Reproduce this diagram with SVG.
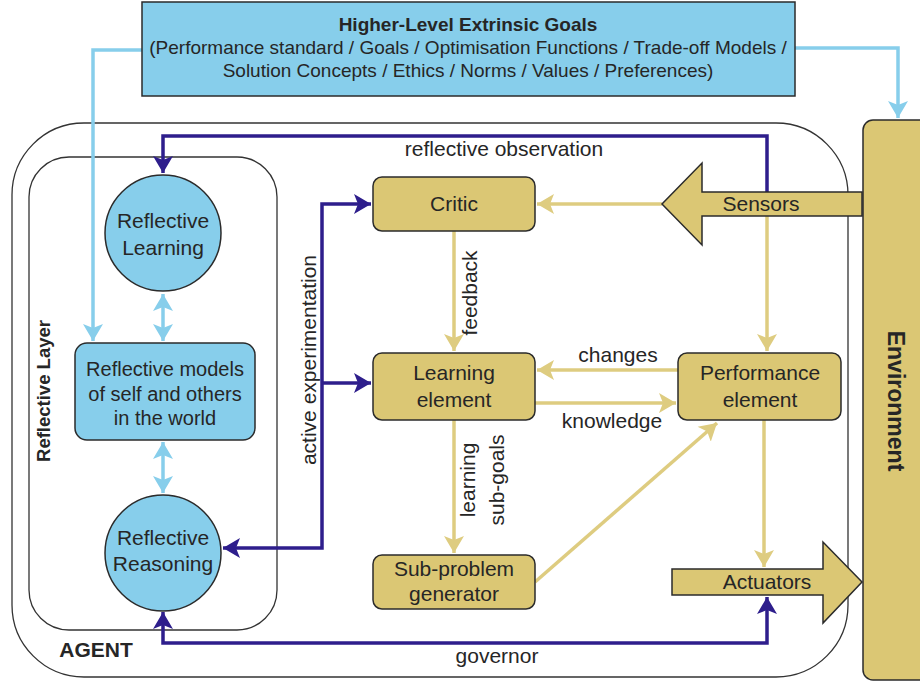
<svg xmlns="http://www.w3.org/2000/svg" width="920" height="682" viewBox="0 0 920 682">
<style>
text{font-family:"Liberation Sans",Arial,sans-serif;fill:#262626;}
.t{font-size:21px;text-anchor:middle;}
.m{font-size:20px;text-anchor:middle;}
.lbl{font-size:21px;text-anchor:middle;}
.b{font-weight:bold;}
.blue{fill:#87CEEB;stroke:#2b2b2b;stroke-width:1.5;}
.gold{fill:#DBC774;stroke:#2b2b2b;stroke-width:1.5;}
.frame{fill:none;stroke:#333;stroke-width:1.3;}
.cg{fill:none;stroke:#DECC80;stroke-width:3.5;}
.cp{fill:none;stroke:#2E1E8C;stroke-width:3.5;}
.cb{fill:none;stroke:#87CEEB;stroke-width:3.5;}
</style>
<defs>
<marker id="ag" markerUnits="userSpaceOnUse" markerWidth="20" markerHeight="22" refX="17" refY="11" orient="auto-start-reverse" viewBox="0 0 20 22"><path d="M0,1 L17,11 L0,21 L4,11 z" fill="#DECC80"/></marker>
<marker id="ap" markerUnits="userSpaceOnUse" markerWidth="20" markerHeight="22" refX="17" refY="11" orient="auto-start-reverse" viewBox="0 0 20 22"><path d="M0,1 L17,11 L0,21 L4,11 z" fill="#2E1E8C"/></marker>
<marker id="ab" markerUnits="userSpaceOnUse" markerWidth="20" markerHeight="22" refX="17" refY="11" orient="auto-start-reverse" viewBox="0 0 20 22"><path d="M0,1 L17,11 L0,21 L4,11 z" fill="#87CEEB"/></marker>
</defs>

<g id="agent">
<rect class="frame" x="12" y="123" width="836" height="554" rx="72" ry="72"/>
<text class="b" x="96" y="657" font-size="21" text-anchor="middle">AGENT</text>
</g>
<g id="reflective-layer">
<rect class="frame" x="29" y="157" width="248" height="473" rx="40" ry="40"/>
<text class="b" font-size="18.5" text-anchor="middle" transform="translate(50,391) rotate(-90)">Reflective Layer</text>
</g>

<g id="connectors">
<path class="cb" d="M142,50 L93,50 L93,341" marker-end="url(#ab)"/>
<path class="cb" d="M795,48 L898,48 L898,118" marker-end="url(#ab)"/>
<path class="cb" d="M163,294 L163,341" marker-start="url(#ab)" marker-end="url(#ab)"/>
<path class="cb" d="M163,442 L163,493" marker-start="url(#ab)" marker-end="url(#ab)"/>

<path class="cp" d="M767,192 L767,136 L163,136 L163,173" marker-end="url(#ap)"/>
<path class="cp" d="M371,204 L322,204 L322,548 L223,548" marker-start="url(#ap)" marker-end="url(#ap)"/>
<path class="cp" d="M322,383 L371,383" marker-end="url(#ap)"/>
<path class="cp" d="M163,612 L163,643 L767,643 L767,597" marker-start="url(#ap)" marker-end="url(#ap)"/>

<path class="cg" d="M662,204 L537,204" marker-end="url(#ag)"/>
<path class="cg" d="M767,216 L767,351" marker-end="url(#ag)"/>
<path class="cg" d="M454,231 L454,351" marker-end="url(#ag)"/>
<path class="cg" d="M678,370 L537,370" marker-end="url(#ag)"/>
<path class="cg" d="M535,403 L676,403" marker-end="url(#ag)"/>
<path class="cg" d="M454,420 L454,553" marker-end="url(#ag)"/>
<path class="cg" d="M535,582 L717,423" marker-end="url(#ag)"/>
<path class="cg" d="M764,420 L764,567" marker-end="url(#ag)"/>

<text class="lbl" x="504" y="156">reflective observation</text>
<text class="lbl" transform="translate(316,360) rotate(-90)">active experimentation</text>
<text class="lbl" transform="translate(477,293) rotate(-90)">feedback</text>
<text class="lbl" transform="translate(475,480) rotate(-90)">learning</text>
<text class="lbl" transform="translate(504,480) rotate(-90)">sub-goals</text>
<text class="lbl" x="618" y="362">changes</text>
<text class="lbl" x="612" y="428">knowledge</text>
<text class="lbl" x="497" y="663">governor</text>
</g>

<g id="goals">
<rect class="blue" x="142" y="2" width="653" height="94"/>
<text class="b" x="468" y="31" font-size="19" text-anchor="middle">Higher-Level Extrinsic Goals</text>
<text x="468" y="54" font-size="19" text-anchor="middle">(Performance standard / Goals / Optimisation Functions / Trade-off Models /</text>
<text x="468" y="77" font-size="19" text-anchor="middle">Solution Concepts / Ethics / Norms / Values / Preferences)</text>
</g>

<g id="reflective-learning">
<circle class="blue" cx="163" cy="233" r="58"/>
<text class="t" x="163" y="228">Reflective</text>
<text class="t" x="163" y="255">Learning</text>
</g>
<g id="reflective-models">
<rect class="blue" x="75" y="343" width="180" height="97" rx="12" ry="12"/>
<text class="m" x="165" y="376">Reflective models</text>
<text class="m" x="165" y="401">of self and others</text>
<text class="m" x="165" y="425">in the world</text>
</g>
<g id="reflective-reasoning">
<circle class="blue" cx="163" cy="553" r="58"/>
<text class="t" x="163" y="545">Reflective</text>
<text class="t" x="163" y="571">Reasoning</text>
</g>

<g id="critic">
<rect class="gold" x="373" y="177" width="162" height="54" rx="9" ry="9"/>
<text class="t" x="454" y="211">Critic</text>
</g>
<g id="learning-element">
<rect class="gold" x="373" y="353" width="162" height="67" rx="9" ry="9"/>
<text class="t" x="454" y="380">Learning</text>
<text class="t" x="454" y="407">element</text>
</g>
<g id="sub-problem-generator">
<rect class="gold" x="373" y="555" width="162" height="54" rx="9" ry="9"/>
<text class="t" x="454" y="576">Sub-problem</text>
<text class="t" x="454" y="601">generator</text>
</g>
<g id="performance-element">
<rect class="gold" x="678" y="353" width="163" height="67" rx="9" ry="9"/>
<text class="t" x="760" y="380">Performance</text>
<text class="t" x="760" y="407">element</text>
</g>
<g id="sensors">
<polygon class="gold" points="862,192 702,192 702,163 662,204 702,245 702,216 862,216"/>
<text class="t" x="761" y="211">Sensors</text>
</g>
<g id="actuators">
<polygon class="gold" points="672,569 823,569 823,542 862,582 823,623 823,595 672,595"/>
<text class="t" x="767" y="589">Actuators</text>
</g>
<g id="environment">
<rect class="gold" x="863" y="120" width="80" height="560" rx="10" ry="10"/>
<text class="b" font-size="23" text-anchor="middle" transform="translate(888,401) rotate(90)">Environment</text>
</g>
</svg>
